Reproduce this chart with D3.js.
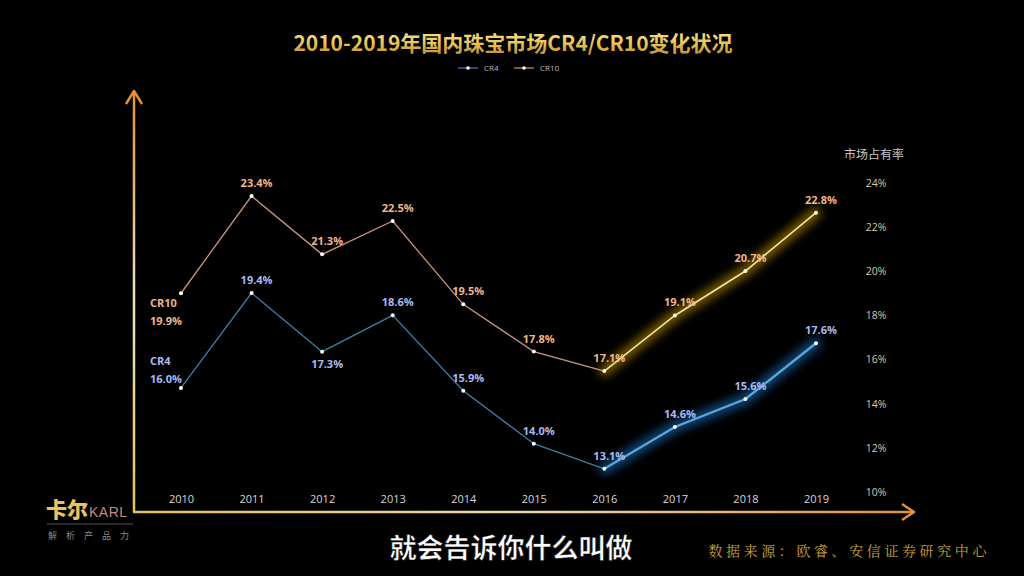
<!DOCTYPE html>
<html><head><meta charset="utf-8">
<script src="https://cdn.jsdelivr.net/npm/d3@7"></script>
<style>html,body{margin:0;padding:0;background:#000;}svg{display:block;}</style>
</head><body>
<script>
const years = ["2010","2011","2012","2013","2014","2015","2016","2017","2018","2019"];
const cr4 = [16.0,19.4,17.3,18.6,15.9,14.0,13.1,14.6,15.6,17.6];
const cr10 = [19.9,23.4,21.3,22.5,19.5,17.8,17.1,19.1,20.7,22.8];
const rightTicks = [10,12,14,16,18,20,22,24];
const seriesNames = ["CR4","CR10"];

const W=1024,H=576;
const svg=d3.select("body").append("svg").attr("width",W).attr("height",H).style("background","#000");
const defs=svg.append("defs");

const x=d3.scalePoint().domain(years).range([181,816]);
const y10=d3.scaleLinear().domain([10,25]).range([568.2,151.6]);
const y4=d3.scaleLinear().domain([10,25]).range([555.3,136.8]);
const yR=d3.scaleLinear().domain([10,24]).range([492,183]);

// gradients
const tg=defs.append("linearGradient").attr("id","tg").attr("x1",0).attr("y1",0).attr("x2",0).attr("y2",1);
tg.append("stop").attr("offset","0%").attr("stop-color","#fbe9a0");
tg.append("stop").attr("offset","55%").attr("stop-color","#eac452");
tg.append("stop").attr("offset","100%").attr("stop-color","#b8862a");
const vg=defs.append("linearGradient").attr("id","vg").attr("gradientUnits","userSpaceOnUse").attr("x1",0).attr("y1",90).attr("x2",0).attr("y2",512);
vg.append("stop").attr("offset","0%").attr("stop-color","#e0913a");
vg.append("stop").attr("offset","50%").attr("stop-color","#f5e2c0");
vg.append("stop").attr("offset","100%").attr("stop-color","#e6c25a");
const hg=defs.append("linearGradient").attr("id","hg").attr("gradientUnits","userSpaceOnUse").attr("x1",134).attr("y1",0).attr("x2",915).attr("y2",0);
hg.append("stop").attr("offset","0%").attr("stop-color","#e6c25a");
hg.append("stop").attr("offset","50%").attr("stop-color","#f0d9a8");
hg.append("stop").attr("offset","100%").attr("stop-color","#e0923a");
const blur=defs.append("filter").attr("id","glow").attr("x","-20%").attr("y","-50%").attr("width","140%").attr("height","200%");
blur.append("feGaussianBlur").attr("stdDeviation",5);

// title
svg.append("text").attr("x",513).attr("y",51).attr("text-anchor","middle")
 .attr("font-family","'Noto Sans CJK SC',sans-serif").attr("font-weight","bold").attr("font-size",21)
 .attr("fill","url(#tg)").text("2010-2019年国内珠宝市场CR4/CR10变化状况");

// legend
const legCol={"CR4":"#5a78c8","CR10":"#d49a70"};
const legX={"CR4":458,"CR10":514};
seriesNames.forEach(n=>{
  const g=svg.append("g").attr("transform",`translate(${legX[n]},68)`);
  g.append("line").attr("x1",0).attr("x2",20).attr("stroke",legCol[n]).attr("stroke-width",1.2);
  g.append("circle").attr("cx",10).attr("r",1.8).attr("fill","#fff");
  g.append("text").attr("x",26).attr("y",3).attr("font-size",8).attr("fill","#bbb")
   .attr("font-family","'Open Sans',sans-serif").text(n);
});

// axes lines (arrows)
svg.append("path").attr("d","M134,512 L134,92").attr("stroke","url(#vg)").attr("stroke-width",2.5).attr("fill","none");
svg.append("path").attr("d","M126,104 L134,91 L142,104").attr("stroke","#e0913a").attr("stroke-width",2.5).attr("fill","none").attr("stroke-linejoin","round");
svg.append("path").attr("d","M133,512 L913,512").attr("stroke","url(#hg)").attr("stroke-width",2.5).attr("fill","none");
svg.append("path").attr("d","M902,504 L914,512 L902,520").attr("stroke","#e0923a").attr("stroke-width",2.5).attr("fill","none").attr("stroke-linejoin","round");

// x axis labels
const xa=svg.append("g").attr("transform","translate(0,499)")
 .call(d3.axisBottom(x).tickSize(0).tickPadding(0));
xa.select(".domain").remove();
xa.selectAll("text").attr("fill","#d8d8d8").attr("font-size",11).attr("font-family","'Open Sans',sans-serif").attr("dy","0.35em");

// right axis
const ra=svg.append("g").attr("transform","translate(876,0)")
 .call(d3.axisRight(yR).tickValues(rightTicks).tickSize(0).tickPadding(0).tickFormat(d=>d+"%"));
ra.select(".domain").remove();
ra.selectAll("text").attr("text-anchor","middle").attr("fill","#d2c8a8").attr("font-size",10.5).attr("font-family","'Open Sans',sans-serif");
svg.append("text").attr("x",874).attr("y",159).attr("text-anchor","middle").attr("fill","#c8c8c8")
 .attr("font-size",12).attr("font-family","'Noto Sans CJK SC',sans-serif").text("市场占有率");

// series
const series=[
 {name:"CR10",vals:cr10,y:y10,line:"#c99679",hl:"#f3e2a8",glow:"#c99a00",lab:"#f2b48a"},
 {name:"CR4",vals:cr4,y:y4,line:"#3c7ea3",hl:"#5aa8d4",glow:"#1a78d0",lab:"#aab9f2"}
];
series.forEach(s=>{
  const pts=years.map((yr,i)=>({yr,v:s.vals[i],i}));
  const ln=d3.line().x(d=>x(d.yr)).y(d=>s.y(d.v));
  const hlPts=pts.slice(6);
  svg.append("path").attr("d",ln(hlPts)).attr("stroke",s.glow).attr("stroke-width",11).attr("fill","none")
   .attr("stroke-linecap","round").attr("opacity",0.6).attr("filter","url(#glow)");
  svg.append("path").attr("d",ln(pts.slice(0,7))).attr("stroke",s.line).attr("stroke-width",1.3).attr("fill","none");
  svg.append("path").attr("d",ln(hlPts)).attr("stroke",s.hl).attr("stroke-width",s.name==="CR4"?2.4:1.6).attr("fill","none");
  svg.selectAll(null).data(pts).enter().append("circle")
   .attr("cx",d=>x(d.yr)).attr("cy",d=>s.y(d.v)).attr("r",2).attr("fill","#fff");
  svg.selectAll(null).data(pts.slice(1)).enter().append("text")
   .attr("x",d=>x(d.yr)+5).attr("y",d=>{
      const below = s.name==="CR4" && d.yr==="2012";
      return s.y(d.v)+(below?16:-9);
   })
   .attr("text-anchor","middle").attr("fill",s.lab).attr("font-weight","bold").attr("font-size",11)
   .attr("font-family","'Open Sans',sans-serif").text(d=>d.v.toFixed(1)+"%");
  const p0=pts[0];
  const lg=svg.append("text").attr("fill",s.lab).attr("font-weight","bold").attr("font-size",11)
   .attr("font-family","'Open Sans',sans-serif");
  const baseY = s.name==="CR10"? s.y(p0.v)+14 : s.y(p0.v)-23;
  lg.append("tspan").attr("x",150).attr("y",baseY).text(s.name);
  lg.append("tspan").attr("x",150).attr("y",baseY+18).text(p0.v.toFixed(1)+"%");
});

// logo
svg.append("text").attr("x",46).attr("y",517).attr("font-family","'Noto Sans CJK SC',sans-serif").attr("font-weight","900")
 .attr("font-size",21).attr("fill","#ecc35a").text("卡尔");
svg.append("text").attr("x",89).attr("y",517).attr("font-family","'Liberation Sans',sans-serif")
 .attr("font-size",14).attr("letter-spacing",0.5).attr("fill","#c98a82").text("KARL");
svg.append("line").attr("x1",47).attr("x2",133).attr("y1",524).attr("y2",524).attr("stroke","#555").attr("stroke-width",1);
svg.append("text").attr("x",48).attr("y",539).attr("font-family","'Noto Sans CJK SC',sans-serif")
 .attr("font-size",9).attr("fill","#8a8a8a").attr("letter-spacing",9).text("解析产品力");

// source
svg.append("text").attr("x",990).attr("y",556).attr("text-anchor","end")
 .attr("font-family","'Noto Serif CJK SC','Noto Sans CJK SC',serif").attr("font-size",14)
 .attr("letter-spacing",3.6).attr("fill","#c9a433").text("数据来源：欧睿、安信证券研究中心");

// subtitle
svg.append("text").attr("x",511).attr("y",558).attr("text-anchor","middle")
 .attr("font-family","'Noto Sans CJK SC',sans-serif").attr("font-weight","bold").attr("font-size",27)
 .attr("fill","#fff").attr("stroke","#000").attr("stroke-width",0.5).text("就会告诉你什么叫做");
</script>
</body></html>
